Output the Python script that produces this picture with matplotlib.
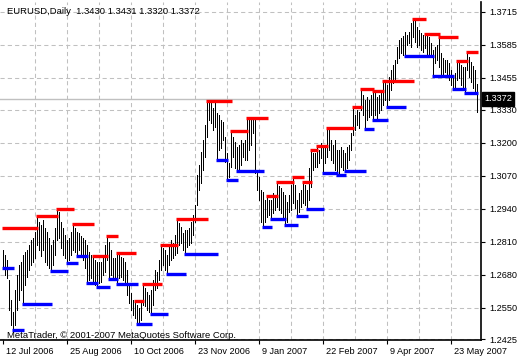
import numpy as np
import pandas as pd
import matplotlib
matplotlib.use("Agg")
import matplotlib.pyplot as plt
from matplotlib.transforms import ScaledTranslation, blended_transform_factory

# ---------------- data ----------------
title_text = "EURUSD,Daily  1.3430 1.3431 1.3320 1.3372"
copyright_text = "MetaTrader, \u00a9 2001-2007 MetaQuotes Software Corp."
first_date = "2006-07-12"
holidays = ["2006-12-25"]
last_price = 1.3372

highs = [
    1.2777, 1.2757, 1.2738, 1.2659, 1.2580, 1.2533, 1.2619, 1.2679, 1.2718, 1.2730,
    1.2757, 1.2769, 1.2777, 1.2797, 1.2816, 1.2824, 1.2848, 1.2911, 1.2887, 1.2876,
    1.2895, 1.2864, 1.2848, 1.2824, 1.2797, 1.2816, 1.2864, 1.2939, 1.2927, 1.2887,
    1.2864, 1.2836, 1.2816, 1.2824, 1.2848, 1.2879, 1.2864, 1.2848, 1.2844, 1.2832,
    1.2824, 1.2816, 1.2797, 1.2769, 1.2757, 1.2753, 1.2738, 1.2730, 1.2730, 1.2730,
    1.2757, 1.2797, 1.2832, 1.2809, 1.2777, 1.2746, 1.2746, 1.2765, 1.2757, 1.2749,
    1.2746, 1.2730, 1.2698, 1.2639, 1.2608, 1.2580, 1.2576, 1.2560, 1.2549, 1.2580,
    1.2643, 1.2627, 1.2612, 1.2600, 1.2619, 1.2659, 1.2698, 1.2690, 1.2738, 1.2797,
    1.2785, 1.2777, 1.2757, 1.2797, 1.2816, 1.2805, 1.2836, 1.2899, 1.2883, 1.2868,
    1.2844, 1.2856, 1.2856, 1.2864, 1.2887, 1.2915, 1.2954, 1.3073, 1.3112, 1.3163,
    1.3210, 1.3270, 1.3364, 1.3360, 1.3356, 1.3336, 1.3360, 1.3317, 1.3309, 1.3289,
    1.3281, 1.3222, 1.3159, 1.3120, 1.3246, 1.3222, 1.3203, 1.3183, 1.3191, 1.3210,
    1.3199, 1.3210, 1.3297, 1.3289, 1.3289, 1.3301, 1.3289, 1.3080, 1.3065, 1.3013,
    1.3006, 1.2974, 1.2990, 1.2974, 1.2974, 1.3002, 1.2994, 1.3045, 1.3029, 1.3021,
    1.3006, 1.2994, 1.2966, 1.2994, 1.3033, 1.3065, 1.3033, 1.2974, 1.3002, 1.3013,
    1.3045, 1.3033, 1.3013, 1.3100, 1.3171, 1.3159, 1.3159, 1.3187, 1.3171, 1.3199,
    1.3191, 1.3183, 1.3258, 1.3250, 1.3210, 1.3191, 1.3210, 1.3171, 1.3171, 1.3183,
    1.3171, 1.3159, 1.3183, 1.3191, 1.3238, 1.3340, 1.3309, 1.3329, 1.3321, 1.3411,
    1.3388, 1.3368, 1.3380, 1.3368, 1.3388, 1.3404, 1.3400, 1.3380, 1.3388, 1.3407,
    1.3443, 1.3435, 1.3427, 1.3459, 1.3486, 1.3506, 1.3526, 1.3577, 1.3604, 1.3612,
    1.3620, 1.3636, 1.3624, 1.3636, 1.3671, 1.3687, 1.3683, 1.3656, 1.3644, 1.3632,
    1.3624, 1.3628, 1.3620, 1.3616, 1.3593, 1.3565, 1.3577, 1.3585, 1.3616, 1.3553,
    1.3533, 1.3526, 1.3526, 1.3514, 1.3486, 1.3467, 1.3474, 1.3522, 1.3526, 1.3506,
    1.3498, 1.3498, 1.3557, 1.3537, 1.3518, 1.3502, 1.3486, 1.3431,
]

lows = [
    1.2706, 1.2679, 1.2667, 1.2541, 1.2482, 1.2462, 1.2482, 1.2541, 1.2580, 1.2619,
    1.2564, 1.2639, 1.2671, 1.2698, 1.2718, 1.2730, 1.2746, 1.2797, 1.2777, 1.2753,
    1.2777, 1.2730, 1.2718, 1.2706, 1.2694, 1.2718, 1.2757, 1.2816, 1.2824, 1.2785,
    1.2757, 1.2746, 1.2726, 1.2738, 1.2757, 1.2777, 1.2769, 1.2753, 1.2777, 1.2757,
    1.2738, 1.2706, 1.2647, 1.2659, 1.2667, 1.2651, 1.2639, 1.2631, 1.2647, 1.2651,
    1.2679, 1.2690, 1.2738, 1.2663, 1.2679, 1.2667, 1.2659, 1.2643, 1.2667, 1.2671,
    1.2659, 1.2647, 1.2600, 1.2568, 1.2541, 1.2521, 1.2509, 1.2485, 1.2493, 1.2501,
    1.2560, 1.2556, 1.2541, 1.2533, 1.2525, 1.2560, 1.2619, 1.2627, 1.2659, 1.2698,
    1.2718, 1.2698, 1.2682, 1.2718, 1.2738, 1.2746, 1.2757, 1.2765, 1.2797, 1.2805,
    1.2777, 1.2761, 1.2789, 1.2797, 1.2805, 1.2836, 1.2887, 1.2954, 1.3013, 1.3041,
    1.3092, 1.3143, 1.3222, 1.3289, 1.3277, 1.3250, 1.3262, 1.3132, 1.3171, 1.3179,
    1.3210, 1.3124, 1.3053, 1.3065, 1.3104, 1.3143, 1.3100, 1.3088, 1.3092, 1.3112,
    1.3143, 1.3132, 1.3132, 1.3171, 1.3191, 1.3238, 1.3080, 1.3013, 1.2974, 1.2887,
    1.2868, 1.2887, 1.2907, 1.2915, 1.2899, 1.2923, 1.2935, 1.2946, 1.2935, 1.2923,
    1.2895, 1.2876, 1.2887, 1.2927, 1.2935, 1.2962, 1.2942, 1.2911, 1.2927, 1.2946,
    1.2962, 1.2954, 1.2939, 1.2974, 1.3025, 1.3092, 1.3104, 1.3104, 1.3120, 1.3140,
    1.3080, 1.3120, 1.3143, 1.3171, 1.3132, 1.3120, 1.3092, 1.3073, 1.3080, 1.3104,
    1.3092, 1.3088, 1.3100, 1.3132, 1.3171, 1.3230, 1.3250, 1.3270, 1.3258, 1.3329,
    1.3309, 1.3254, 1.3289, 1.3301, 1.3309, 1.3289, 1.3309, 1.3289, 1.3317, 1.3329,
    1.3348, 1.3368, 1.3340, 1.3368, 1.3407, 1.3435, 1.3447, 1.3514, 1.3533, 1.3553,
    1.3545, 1.3541, 1.3585, 1.3593, 1.3577, 1.3616, 1.3597, 1.3577, 1.3585, 1.3565,
    1.3557, 1.3573, 1.3545, 1.3537, 1.3545, 1.3463, 1.3514, 1.3526, 1.3498, 1.3467,
    1.3467, 1.3478, 1.3467, 1.3447, 1.3427, 1.3411, 1.3415, 1.3447, 1.3455, 1.3427,
    1.3407, 1.3396, 1.3486, 1.3459, 1.3439, 1.3415, 1.3400, 1.3320,
]

# fractal resistance (red) and support (blue) levels: starting bar and price
red_start = [0, 17, 27, 35, 45, 52, 57, 66, 70, 79, 87, 102, 114, 122, 132, 137,
             145, 150, 154, 157, 162, 175, 179, 185, 190, 205, 211, 218, 227, 232]
red_level = [1.2864, 1.2911, 1.2939, 1.2879, 1.2753, 1.2832, 1.2765, 1.2576,
             1.2643, 1.2797, 1.2899, 1.3364, 1.3246, 1.3297, 1.2990, 1.3045,
             1.3065, 1.3045, 1.3171, 1.3187, 1.3258, 1.3340, 1.3411, 1.3404,
             1.3443, 1.3687, 1.3628, 1.3616, 1.3522, 1.3557]
blue_start = [0, 5, 10, 24, 32, 37, 42, 47, 53, 57, 67, 74, 82, 91, 107, 112,
              117, 130, 134, 141, 147, 152, 160, 167, 171, 181, 185, 192, 201,
              215, 225, 231]
blue_level = [1.2706, 1.2462, 1.2564, 1.2694, 1.2726, 1.2753, 1.2647, 1.2631,
              1.2663, 1.2643, 1.2485, 1.2525, 1.2682, 1.2761, 1.3132, 1.3053,
              1.3088, 1.2868, 1.2899, 1.2876, 1.2911, 1.2939, 1.3080, 1.3073,
              1.3088, 1.3254, 1.3289, 1.3340, 1.3541, 1.3463, 1.3411, 1.3396]

y_ticks = [1.3715, 1.3585, 1.3455, 1.3330, 1.3200, 1.3070, 1.2940,
           1.2810, 1.2680, 1.2550, 1.2425]
x_tick_labels = ["12 Jul 2006", "25 Aug 2006", "10 Oct 2006", "23 Nov 2006",
                 "9 Jan 2007", "22 Feb 2007", "9 Apr 2007", "23 May 2007"]

# ---------------- figure ----------------
FONT = "Liberation Sans"
W, H = 520, 360
fig = plt.figure(figsize=(W / 100, H / 100), dpi=100)
fig.patch.set_facecolor("white")

ax_left, ax_right, ax_top, ax_bottom = 0, 481, 2, 340
ax = fig.add_axes([ax_left / W, 1 - ax_bottom / H,
                   (ax_right - ax_left) / W, (ax_bottom - ax_top) / H])
ax.set_facecolor("white")

dates = pd.bdate_range(first_date, periods=len(highs), freq="C", holidays=holidays)
idx = np.arange(len(dates))

ax.set_xlim(-1.5, 239)
ax.set_ylim(1.24224, 1.37541)

grid_kw = dict(color="#c0c0c0", lw=0.75, dashes=(4, 3), zorder=0)
for yv in y_ticks:
    ax.axhline(yv, **grid_kw)
for k in range(16, 239, 16):
    ax.axvline(k, **grid_kw)

# bid line
ax.axhline(last_price, color="#c0c0c0", lw=1.0, zorder=1)

# price bars
ax.vlines(idx, lows, highs, color="black", lw=0.72, antialiased=False, zorder=2)

# fractal levels
def draw_levels(starts, levels, color):
    n = len(starts)
    for j in range(n):
        s = starts[j]
        e = starts[j + 1] if j + 1 < n else len(highs) - 1
        ax.plot([s - 0.5, e + 0.5], [levels[j], levels[j]], color=color,
                lw=2.4, solid_capstyle="butt", zorder=3)

draw_levels(red_start, red_level, "#ff0000")
draw_levels(blue_start, blue_level, "#0000ff")

# axes styling
for side in ("left", "top"):
    ax.spines[side].set_visible(False)
for side in ("right", "bottom"):
    ax.spines[side].set_color("black")
    ax.spines[side].set_linewidth(1.2)

ax.yaxis.tick_right()
ax.set_yticks(y_ticks)
ax.set_yticklabels([f"{v:.4f}" for v in y_ticks])
ax.tick_params(axis="y", direction="out", length=3, width=0.8, pad=3,
               labelsize=6.6, colors="black")

label_dates = [pd.Timestamp(pd.to_datetime(s, format="%d %b %Y")) for s in x_tick_labels]
xpos = [int(np.where(dates == d)[0][0]) for d in label_dates]
ax.set_xticks(xpos)
ax.set_xticklabels(x_tick_labels, ha="left")
ax.tick_params(axis="x", direction="out", length=3, width=0.8, pad=2,
               labelsize=6.6, colors="black")
off = ScaledTranslation(3 / 100, 0, fig.dpi_scale_trans)
for lbl in ax.get_xticklabels():
    lbl.set_transform(lbl.get_transform() + off)
for lbl in ax.get_xticklabels() + ax.get_yticklabels():
    lbl.set_fontfamily(FONT)

# texts
fig.text(7 / W, 1 - 11 / H, title_text, fontsize=6.8, family=FONT,
         ha="left", va="center", color="black")
fig.text(7 / W, 1 - 335 / H, copyright_text, fontsize=6.8, family=FONT,
         ha="left", va="center", color="black")

# current price label
trans = blended_transform_factory(ax.transAxes, ax.transData)
ax.text(1.0 + 3 / 481, last_price, f"{last_price:.4f}", transform=trans,
        fontsize=6.6, family=FONT, color="white", ha="left", va="center",
        bbox=dict(boxstyle="square,pad=0.25", facecolor="black", edgecolor="black"),
        clip_on=False, zorder=5)

fig.savefig("out.png", dpi=100)
